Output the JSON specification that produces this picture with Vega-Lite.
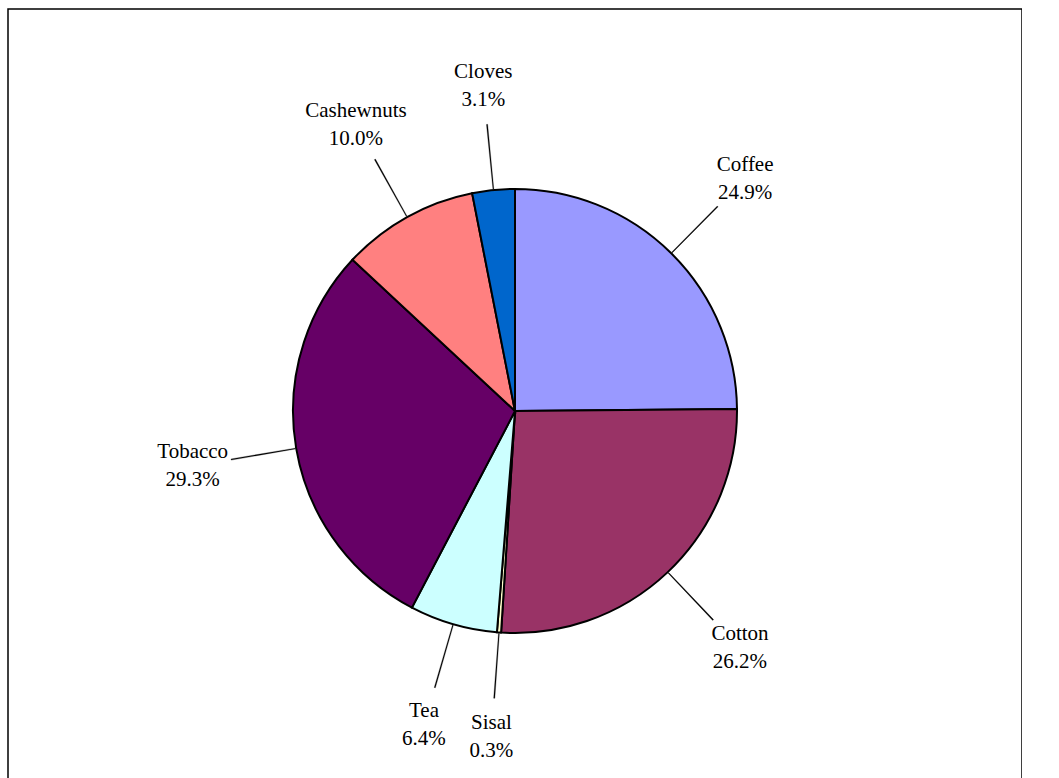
{
  "$schema": "https://vega.github.io/schema/vega-lite/v6.json",
  "width": 1014,
  "height": 804,
  "padding": {"left": 8, "top": 9, "right": 0, "bottom": 0},
  "background": "white",
  "view": {"stroke": "#000000", "strokeWidth": 1.5, "fill": "white"},
  "data": {
    "values": [
      {"idx": 0, "crop": "Coffee", "share": 0.249},
      {"idx": 1, "crop": "Cotton", "share": 0.262},
      {"idx": 2, "crop": "Sisal", "share": 0.003},
      {"idx": 3, "crop": "Tea", "share": 0.064},
      {"idx": 4, "crop": "Tobacco", "share": 0.293},
      {"idx": 5, "crop": "Cashewnuts", "share": 0.100},
      {"idx": 6, "crop": "Cloves", "share": 0.031}
    ]
  },
  "layer": [
    {
      "mark": {"type": "arc", "outerRadius": 222, "stroke": "#000000", "strokeWidth": 2},
      "encoding": {
        "theta": {"field": "share", "type": "quantitative", "stack": true},
        "order": {"field": "idx", "type": "quantitative"},
        "color": {
          "field": "crop",
          "type": "nominal",
          "legend": null,
          "scale": {
            "domain": ["Coffee", "Cotton", "Sisal", "Tea", "Tobacco", "Cashewnuts", "Cloves"],
            "range": ["#9999FF", "#993366", "#FFFFCC", "#CCFFFF", "#660066", "#FF8080", "#0066CC"]
          }
        }
      }
    },
    {
      "transform": [
        {"joinaggregate": [{"op": "sum", "field": "share", "as": "total"}]},
        {"stack": "share", "groupby": [], "sort": [{"field": "idx", "order": "ascending"}], "as": ["s0", "s1"]}
      ],
      "mark": {
        "type": "arc",
        "radius": 288,
        "radius2": 223,
        "theta": {"expr": "PI*(datum.s0+datum.s1)/datum.total - 0.002"},
        "theta2": {"expr": "PI*(datum.s0+datum.s1)/datum.total + 0.002"},
        "fill": "#000000",
        "stroke": "#000000",
        "strokeWidth": 0.3
      },
      "encoding": {}
    },
    {
      "mark": {"type": "text", "radius": 327, "font": "Liberation Serif", "fontSize": 21, "align": "center", "baseline": "middle", "dy": -14, "color": "#000000"},
      "encoding": {
        "theta": {"field": "share", "type": "quantitative", "stack": true},
        "order": {"field": "idx", "type": "quantitative"},
        "text": {"field": "crop", "type": "nominal"}
      }
    },
    {
      "mark": {"type": "text", "radius": 327, "font": "Liberation Serif", "fontSize": 21, "align": "center", "baseline": "middle", "dy": 14, "color": "#000000"},
      "encoding": {
        "theta": {"field": "share", "type": "quantitative", "stack": true},
        "order": {"field": "idx", "type": "quantitative"},
        "text": {"field": "share", "type": "quantitative", "format": ".1%"}
      }
    }
  ]
}
